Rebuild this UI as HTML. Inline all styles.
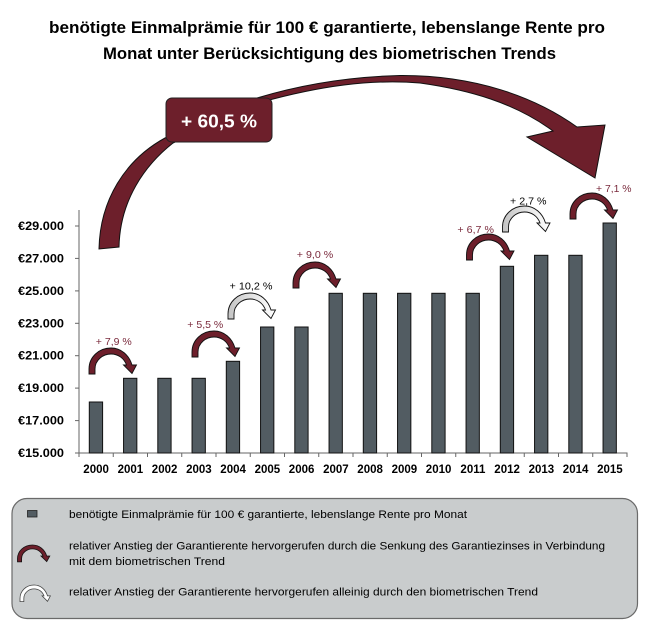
<!DOCTYPE html>
<html><head><meta charset="utf-8"><style>
html,body{margin:0;padding:0;background:#fff;}
svg{display:block;}
text{font-family:"Liberation Sans",sans-serif;}
</style></head><body>
<svg width="651" height="626" viewBox="0 0 651 626" xmlns="http://www.w3.org/2000/svg">
<defs>
<linearGradient id="gg" x1="0" y1="0" x2="1" y2="0">
<stop offset="0" stop-color="#c4c4c4"/><stop offset="0.55" stop-color="#e6e6e6"/><stop offset="1" stop-color="#ffffff"/>
</linearGradient>
<path id="arr" d="M0,26 L0,21 C0,9 10,0 22,0 C32,0 40,7 43,17 L47.5,17 L43,25.5 L34.5,17 L37.5,17 C35,10 29,6 22,6 C14,6 6,12 6,21 L6,26 Z"/>
</defs>

<!-- Title -->
<text x="327" y="33" font-size="17" font-weight="bold" text-anchor="middle" textLength="556" lengthAdjust="spacingAndGlyphs" fill="#000">benötigte Einmalprämie für 100 € garantierte, lebenslange Rente pro</text>
<text x="329.5" y="59" font-size="17" font-weight="bold" text-anchor="middle" textLength="453" lengthAdjust="spacingAndGlyphs" fill="#000">Monat unter Berücksichtigung des biometrischen Trends</text>

<!-- Axes -->
<g stroke="#666" stroke-width="1" fill="none">
<line x1="79" y1="210" x2="79" y2="453"/>
<line x1="79" y1="453" x2="627.5" y2="453"/>
<line x1="75" y1="453" x2="79" y2="453"/>
<line x1="75" y1="420.6" x2="79" y2="420.6"/>
<line x1="75" y1="388.1" x2="79" y2="388.1"/>
<line x1="75" y1="355.7" x2="79" y2="355.7"/>
<line x1="75" y1="323.3" x2="79" y2="323.3"/>
<line x1="75" y1="290.9" x2="79" y2="290.9"/>
<line x1="75" y1="258.4" x2="79" y2="258.4"/>
<line x1="75" y1="226" x2="79" y2="226"/>
<line x1="79" y1="453" x2="79" y2="457"/>
<line x1="113.25" y1="453" x2="113.25" y2="457"/>
<line x1="147.5" y1="453" x2="147.5" y2="457"/>
<line x1="181.75" y1="453" x2="181.75" y2="457"/>
<line x1="216" y1="453" x2="216" y2="457"/>
<line x1="250.25" y1="453" x2="250.25" y2="457"/>
<line x1="284.5" y1="453" x2="284.5" y2="457"/>
<line x1="318.75" y1="453" x2="318.75" y2="457"/>
<line x1="353" y1="453" x2="353" y2="457"/>
<line x1="387.25" y1="453" x2="387.25" y2="457"/>
<line x1="421.5" y1="453" x2="421.5" y2="457"/>
<line x1="455.75" y1="453" x2="455.75" y2="457"/>
<line x1="490" y1="453" x2="490" y2="457"/>
<line x1="524.25" y1="453" x2="524.25" y2="457"/>
<line x1="558.5" y1="453" x2="558.5" y2="457"/>
<line x1="592.75" y1="453" x2="592.75" y2="457"/>
<line x1="627" y1="453" x2="627" y2="457"/>
</g>

<!-- Y labels -->
<g font-size="11.5" font-weight="bold" fill="#000" text-anchor="end">
<text x="64" y="457" textLength="46" lengthAdjust="spacingAndGlyphs">€15.000</text>
<text x="64" y="424.6" textLength="46" lengthAdjust="spacingAndGlyphs">€17.000</text>
<text x="64" y="392.1" textLength="46" lengthAdjust="spacingAndGlyphs">€19.000</text>
<text x="64" y="359.7" textLength="46" lengthAdjust="spacingAndGlyphs">€21.000</text>
<text x="64" y="327.3" textLength="46" lengthAdjust="spacingAndGlyphs">€23.000</text>
<text x="64" y="294.9" textLength="46" lengthAdjust="spacingAndGlyphs">€25.000</text>
<text x="64" y="262.4" textLength="46" lengthAdjust="spacingAndGlyphs">€27.000</text>
<text x="64" y="230" textLength="46" lengthAdjust="spacingAndGlyphs">€29.000</text>
</g>

<!-- Bars -->
<g fill="#525c62" stroke="#111" stroke-width="1">
<rect x="89.3" y="402" width="13.3" height="51"/>
<rect x="123.55" y="378.3" width="13.3" height="74.7"/>
<rect x="157.8" y="378.3" width="13.3" height="74.7"/>
<rect x="192.05" y="378.3" width="13.3" height="74.7"/>
<rect x="226.3" y="361.3" width="13.3" height="91.7"/>
<rect x="260.55" y="327" width="13.3" height="126"/>
<rect x="294.8" y="327" width="13.3" height="126"/>
<rect x="329.05" y="293.3" width="13.3" height="159.7"/>
<rect x="363.3" y="293.3" width="13.3" height="159.7"/>
<rect x="397.55" y="293.3" width="13.3" height="159.7"/>
<rect x="431.8" y="293.3" width="13.3" height="159.7"/>
<rect x="466.05" y="293.3" width="13.3" height="159.7"/>
<rect x="500.3" y="266.3" width="13.3" height="186.7"/>
<rect x="534.55" y="255.3" width="13.3" height="197.7"/>
<rect x="568.8" y="255.3" width="13.3" height="197.7"/>
<rect x="603.05" y="223" width="13.3" height="230"/>
</g>

<!-- X labels -->
<g font-size="11.5" font-weight="bold" fill="#000" text-anchor="middle">
<text x="96.1" y="473">2000</text>
<text x="130.4" y="473">2001</text>
<text x="164.6" y="473">2002</text>
<text x="198.9" y="473">2003</text>
<text x="233.1" y="473">2004</text>
<text x="267.4" y="473">2005</text>
<text x="301.6" y="473">2006</text>
<text x="335.9" y="473">2007</text>
<text x="370.1" y="473">2008</text>
<text x="404.4" y="473">2009</text>
<text x="438.6" y="473">2010</text>
<text x="472.9" y="473">2011</text>
<text x="507.1" y="473">2012</text>
<text x="541.4" y="473">2013</text>
<text x="575.6" y="473">2014</text>
<text x="609.9" y="473">2015</text>
</g>

<!-- Small arrows -->
<g stroke="#111" stroke-width="0.9">
<use href="#arr" transform="translate(89,348)" fill="#6d1f2b"/>
<use href="#arr" transform="translate(192,331)" fill="#6d1f2b"/>
<use href="#arr" transform="translate(228,293)" fill="url(#gg)"/>
<use href="#arr" transform="translate(293,262)" fill="#6d1f2b"/>
<use href="#arr" transform="translate(466.5,234)" fill="#6d1f2b"/>
<use href="#arr" transform="translate(502.5,206)" fill="url(#gg)"/>
<use href="#arr" transform="translate(570,193)" fill="#6d1f2b"/>
</g>

<!-- Small labels -->
<g font-size="10.5" text-anchor="middle">
<text x="113.8" y="345" fill="#7a2a3c" textLength="36" lengthAdjust="spacingAndGlyphs">+ 7,9 %</text>
<text x="205.3" y="328" fill="#7a2a3c" textLength="36" lengthAdjust="spacingAndGlyphs">+ 5,5 %</text>
<text x="251" y="289.5" fill="#000" textLength="43" lengthAdjust="spacingAndGlyphs">+ 10,2 %</text>
<text x="315" y="258" fill="#7a2a3c" textLength="36.5" lengthAdjust="spacingAndGlyphs">+ 9,0 %</text>
<text x="475.7" y="233" fill="#7a2a3c" textLength="36.5" lengthAdjust="spacingAndGlyphs">+ 6,7 %</text>
<text x="528.3" y="204.5" fill="#000" textLength="36.5" lengthAdjust="spacingAndGlyphs">+ 2,7 %</text>
<text x="613.8" y="192" fill="#7a2a3c" textLength="35.5" lengthAdjust="spacingAndGlyphs">+ 7,1 %</text>
</g>

<!-- Big arrow -->
<path d="M99,249 C100,200 125,160 165,138 L257,98 C290,88 340,77 400,75.5 C475,75 535,97 577,127 L605,125 L595,178 L527,137 L553,131 C515,103 470,90 420,83 C370,79 320,86 262,102 L173,143 C145,165 120,200 119,247 Z" fill="#6d1f2b" stroke="#111" stroke-width="1"/>
<rect x="166" y="98" width="106" height="44" rx="6" ry="6" fill="#6d1f2b" stroke="#222" stroke-width="1"/>
<text x="219" y="127.5" font-size="18" font-weight="bold" fill="#fff" text-anchor="middle" textLength="76" lengthAdjust="spacingAndGlyphs">+ 60,5 %</text>

<!-- Legend -->
<rect x="12" y="498.5" width="625.5" height="120" rx="15" ry="15" fill="#c9cccd" stroke="#6a6a6a" stroke-width="1.2"/>
<rect x="27.5" y="510.5" width="9.5" height="6.5" fill="#525c62" stroke="#222" stroke-width="0.8"/>
<use href="#arr" transform="translate(17.5,545) scale(0.68,0.65)" fill="#6d1f2b" stroke="#111" stroke-width="1.2"/>
<use href="#arr" transform="translate(20,585) scale(0.64,0.64)" fill="#fff" stroke="#444" stroke-width="1.2"/>
<g font-size="11" fill="#000">
<text x="69" y="518" textLength="398" lengthAdjust="spacingAndGlyphs">benötigte Einmalprämie für 100 € garantierte, lebenslange Rente pro Monat</text>
<text x="69" y="549.5" textLength="536" lengthAdjust="spacingAndGlyphs">relativer Anstieg der Garantierente hervorgerufen durch die Senkung des Garantiezinses in Verbindung</text>
<text x="69" y="565" textLength="156" lengthAdjust="spacingAndGlyphs">mit dem biometrischen Trend</text>
<text x="69" y="595.5" textLength="469" lengthAdjust="spacingAndGlyphs">relativer Anstieg der Garantierente hervorgerufen alleinig durch den biometrischen Trend</text>
</g>
</svg>
</body></html>
